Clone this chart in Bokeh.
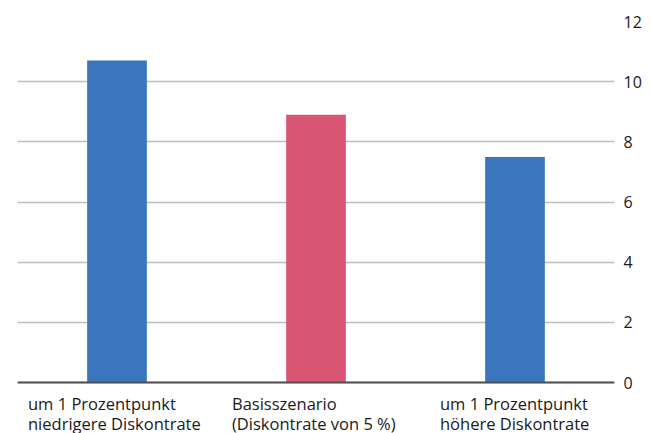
from bokeh.plotting import figure
from bokeh.models import ColumnDataSource, FixedTicker, Range1d, FactorRange, LabelSet, Span
from bokeh.core.properties import value
from bokeh.embed import file_html
from bokeh.resources import INLINE

# ---- data ----
categories = [
    "um 1 Prozentpunkt\nniedrigere Diskontrate",
    "Basisszenario\n(Diskontrate von 5 %)",
    "um 1 Prozentpunkt\nhöhere Diskontrate",
]
values = [10.7, 8.9, 7.5]
y_ticks = [0, 2, 4, 6, 8, 10, 12]

# ---- styling / layout ----
bar_colors = ["#3b75bc", "#d85674", "#3b75bc"]
label_x_offsets = [-89, -84, -75]
FONT = "Open Sans"
PLOT_H = 361            # pixels for 0..12
LABEL_H = 51            # extra pixels below the zero line for the category texts
y_top = y_ticks[-1]
y_bottom = -LABEL_H / PLOT_H * y_top

line1 = [c.split("\n")[0] for c in categories]
line2 = [c.split("\n")[1] for c in categories]

source = ColumnDataSource(dict(cat=categories, val=values, color=bar_colors,
                               base=[0] * len(values), xoff=label_x_offsets,
                               l1=line1, l2=line2))

p = figure(
    x_range=FactorRange(factors=categories, range_padding=0),
    y_range=Range1d(y_bottom, y_top),
    frame_width=597, frame_height=PLOT_H + LABEL_H,
    min_border_left=17, min_border_top=21, min_border_bottom=0, min_border_right=0,
    x_axis_location=None, y_axis_location="right",
    output_backend="svg", toolbar_location=None,
)
p.background_fill_color = "white"
p.border_fill_color = "white"
p.outline_line_color = None

p.vbar(x="cat", top="val", bottom=0, width=0.3, color="color", line_color=None, source=source)

# grid
p.xgrid.grid_line_color = None
p.ygrid.ticker = FixedTicker(ticks=y_ticks)
p.ygrid.grid_line_color = "#bdbdbd"
p.ygrid.grid_line_width = 1.5

# baseline
p.add_layout(Span(location=0, dimension="width", line_color="#505050", line_width=2))

# y axis (right)
p.yaxis.ticker = FixedTicker(ticks=y_ticks)
p.yaxis.axis_line_color = None
p.yaxis.major_tick_line_color = None
p.yaxis.minor_tick_line_color = None
p.yaxis.major_tick_out = 0
p.yaxis.major_tick_in = 0
p.yaxis.major_label_standoff = 9
p.yaxis.major_label_text_font = FONT
p.yaxis.major_label_text_font_size = "16px"
p.yaxis.major_label_text_color = "#1a1a1a"

for field, yoff in (("l1", -27), ("l2", -47)):
    p.add_layout(LabelSet(x="cat", y="base", text=field, source=source,
                          x_offset="xoff", y_offset=yoff,
                          text_align="left", text_baseline="alphabetic",
                          text_font=value(FONT), text_font_size=value("16.5px"),
                          text_color=value("#1a1a1a")))

open("out.html", "w").write(file_html(p, INLINE))
